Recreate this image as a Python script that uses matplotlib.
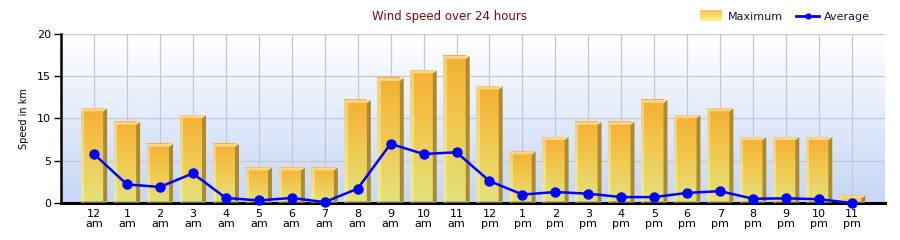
import matplotlib
matplotlib.use("Agg")
import matplotlib.pyplot as plt
import numpy as np
from matplotlib.colors import LinearSegmentedColormap
from matplotlib.patches import Polygon, Rectangle
from matplotlib.lines import Line2D
from matplotlib.legend_handler import HandlerBase

# data
hours = ["12\nam", "1\nam", "2\nam", "3\nam", "4\nam", "5\nam", "6\nam", "7\nam",
         "8\nam", "9\nam", "10\nam", "11\nam", "12\npm", "1\npm", "2\npm", "3\npm",
         "4\npm", "5\npm", "6\npm", "7\npm", "8\npm", "9\npm", "10\npm", "11\npm"]
maximum = [11.2, 9.6, 7.0, 10.4, 7.0, 4.2, 4.2, 4.2, 12.2, 14.8, 15.7, 17.4,
           13.8, 6.1, 7.8, 9.6, 9.6, 12.2, 10.4, 11.2, 7.8, 7.8, 7.8, 0.9]
average = [5.8, 2.2, 1.9, 3.5, 0.6, 0.3, 0.6, 0.1, 1.7, 7.0, 5.8, 6.0,
           2.6, 1.0, 1.3, 1.1, 0.7, 0.7, 1.2, 1.4, 0.5, 0.55, 0.45, 0.0]

plt.rcParams["font.family"] = ["DejaVu Sans"]

fig = plt.figure(figsize=(9, 2.4), dpi=100)
ax = fig.add_axes([61 / 900, 37 / 240, 824 / 900, 169 / 240])

x = np.arange(len(hours))
ax.set_xlim(-1, 24)
ax.set_ylim(0, 20)

# plot background: white at top to light blue at bottom
bg = LinearSegmentedColormap.from_list("bg", ["#c6d6f6", "#ffffff"])
ax.imshow(np.linspace(0, 1, 256).reshape(-1, 1), cmap=bg, origin="lower",
          extent=[0, 1, 0, 1], transform=ax.transAxes, aspect="auto", zorder=0)

for yv in [5, 10, 15, 20]:
    ax.axhline(yv, color="#c4c7d4", lw=0.9, zorder=1)
for xv in x:
    ax.axvline(xv, color="#c4c7d4", lw=0.9, zorder=1)

# gradient bars with a little 3D side and cap
bar_cmap = LinearSegmentedColormap.from_list("bar", ["#e2e27c", "#f0ca52", "#f5b032"])
w = 0.8
side = 0.12
cap = 0.35
for xi, v in zip(x, maximum):
    x0 = xi - w / 2
    ax.imshow(np.linspace(0, 1, 128).reshape(-1, 1), cmap=bar_cmap, origin="lower",
              extent=[x0, x0 + w - side, 0, v], aspect="auto", zorder=2,
              vmin=0, vmax=1)
    # light left edge
    ax.add_patch(Rectangle((x0, 0), 0.1, v, color="#fff6b0", alpha=0.45, lw=0, zorder=3))
    # dark right side
    ax.add_patch(Polygon([[x0 + w - side, 0], [x0 + w, 0.25], [x0 + w, v],
                          [x0 + w - side, v - cap]], closed=True,
                         color="#a88a3c", lw=0, zorder=3))
    # top cap
    ax.add_patch(Polygon([[x0, v - cap], [x0 + w - side, v - cap], [x0 + w, v],
                          [x0 + side * 0.3, v]], closed=True,
                         color="#fad48a", lw=0, zorder=3))
    ax.add_patch(Rectangle((x0, 0), w, 0.25, color="#a89a50", alpha=0.6, lw=0, zorder=3))

ax.plot(x, average, color="#0000ff", lw=1.8, marker="o", ms=6.5, zorder=5, clip_on=False)

ax.set_xticks(x)
ax.set_xticklabels(hours, fontsize=8, linespacing=1.1)
ax.set_yticks([0, 5, 10, 15, 20])
ax.tick_params(axis="y", labelsize=8, length=5, width=1, pad=2)
ax.tick_params(axis="x", length=0, pad=4)
for s in ["top", "right"]:
    ax.spines[s].set_visible(False)
ax.spines["left"].set_linewidth(1.8)
ax.spines["bottom"].set_linewidth(2.2)
ax.set_ylabel("Speed in km", fontsize=7, labelpad=6)

fig.text(0.5, 0.932, "Wind speed over 24 hours", ha="center", va="center",
         fontsize=8.5, color="#7a0c0c")


class GradHandler(HandlerBase):
    def create_artists(self, legend, orig, xd, yd, width, height, fontsize, trans):
        cols = ["#fde88a", "#fcdc74", "#fbd064", "#f9c654"]
        n = len(cols)
        h = height * 1.3
        y0 = yd - (h - height) / 2
        return [Rectangle((xd, y0 + h * i / n), width, h / n,
                          facecolor=c, lw=0, transform=trans)
                for i, c in enumerate(cols)]


max_handle = Rectangle((0, 0), 1, 1)
avg_handle = Line2D([], [], color="#0000ff", lw=2, marker="o", ms=3.5)
fig.legend([max_handle, avg_handle], ["Maximum", "Average"],
           handler_map={Rectangle: GradHandler()},
           loc="center right", bbox_to_anchor=(0.978, 0.93), ncol=2, frameon=False,
           fontsize=8, handlelength=2.0, handleheight=0.8, columnspacing=1.2,
           handletextpad=0.5, labelcolor="#1a1030")

fig.savefig("out.png", dpi=100)
